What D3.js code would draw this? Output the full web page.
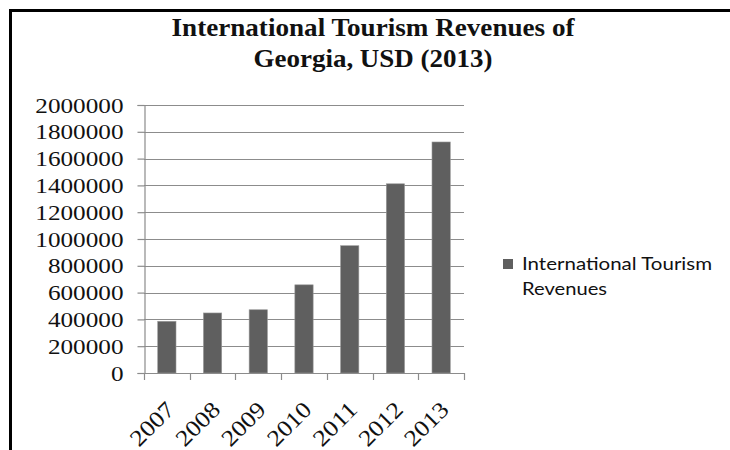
<!DOCTYPE html>
<html>
<head>
<meta charset="utf-8">
<script src="https://cdn.jsdelivr.net/npm/d3@7"></script>
<style>
  html, body { margin: 0; padding: 0; background: #fff; }
  svg { display: block; }
</style>
</head>
<body>
<svg id="chart" width="730" height="450"></svg>
<script>
// International tourism revenues of Georgia, USD
const years = ["2007", "2008", "2009", "2010", "2011", "2012", "2013"];
const revenues = [386000, 448000, 472000, 658000, 950000, 1412000, 1724000];
const yTicks = [0, 200000, 400000, 600000, 800000, 1000000, 1200000, 1400000, 1600000, 1800000, 2000000];
const titleLines = ["International Tourism Revenues of", "Georgia, USD (2013)"];
const legendLines = ["International Tourism", "Revenues"];

const svg = d3.select("#chart");
const plot = { left: 144, right: 464, top: 105, bottom: 373 };

const x = d3.scaleBand().domain(years).range([plot.left, plot.right])
  .paddingInner(0.6).paddingOuter(0.3);
const y = d3.scaleLinear().domain([0, 2000000]).range([plot.bottom, plot.top]);

// outer frame (open on the right and bottom)
svg.append("path")
  .attr("d", "M10.5,760 L10.5,10.5 L760,10.5")
  .attr("fill", "none").attr("stroke", "#000").attr("stroke-width", 3);

// title
const titleW = [403, 239];
svg.append("g").selectAll("text").data(titleLines).join("text")
  .attr("x", 373).attr("y", (d, i) => 36 + i * 30.5)
  .attr("text-anchor", "middle")
  .attr("font-family", "'Liberation Serif', 'Times New Roman', serif")
  .attr("font-weight", "bold").attr("font-size", 26)
  .attr("fill", "#111")
  .attr("textLength", (d, i) => titleW[i]).attr("lengthAdjust", "spacingAndGlyphs")
  .text(d => d);

// horizontal gridlines
svg.append("g").selectAll("line").data(yTicks.slice(1)).join("line")
  .attr("x1", plot.left).attr("x2", plot.right)
  .attr("y1", d => Math.round(y(d)) + 0.5).attr("y2", d => Math.round(y(d)) + 0.5)
  .attr("stroke", "#8c8c8c").attr("stroke-width", 1.2);

// y axis
const yAxis = svg.append("g")
  .attr("transform", `translate(${plot.left + 0.5},0)`)
  .call(d3.axisLeft(y).tickValues(yTicks).tickSize(7).tickPadding(14).tickFormat(d3.format("d")));
yAxis.select(".domain").attr("stroke", "#8c8c8c").attr("stroke-width", 1.2);
yAxis.selectAll(".tick line").attr("stroke", "#8c8c8c").attr("stroke-width", 1.2);
yAxis.selectAll(".tick text")
  .attr("font-family", "'Liberation Serif', 'Times New Roman', serif")
  .attr("font-size", 22).attr("fill", "#111")
  .attr("textLength", d => String(d).length * 12.6)
  .attr("lengthAdjust", "spacingAndGlyphs");

// bars
svg.append("g").selectAll("rect").data(years).join("rect")
  .attr("x", d => x(d)).attr("width", x.bandwidth())
  .attr("y", (d, i) => y(revenues[i]))
  .attr("height", (d, i) => y(0) - y(revenues[i]))
  .attr("fill", "#5f5f5f")
  .attr("stroke", "#9a9a9a").attr("stroke-width", 0.6);

// x axis: baseline plus ticks at category boundaries
const step = x.step();
const boundaries = d3.range(years.length + 1).map(i => plot.left + i * step);
const xAxis = svg.append("g");
xAxis.append("line")
  .attr("x1", plot.left).attr("x2", plot.right)
  .attr("y1", plot.bottom + 0.5).attr("y2", plot.bottom + 0.5)
  .attr("stroke", "#8c8c8c").attr("stroke-width", 1.2);
xAxis.selectAll("line.tick").data(boundaries).join("line")
  .attr("class", "tick")
  .attr("x1", d => Math.round(d) + 0.5).attr("x2", d => Math.round(d) + 0.5)
  .attr("y1", plot.bottom).attr("y2", plot.bottom + 7)
  .attr("stroke", "#8c8c8c").attr("stroke-width", 1.2);
xAxis.selectAll("text").data(years).join("text")
  .attr("transform", d => `translate(${x(d) + x.bandwidth() / 2 + 9},411) rotate(-45)`)
  .attr("text-anchor", "end")
  .attr("font-family", "'Liberation Serif', 'Times New Roman', serif")
  .attr("font-size", 23).attr("fill", "#111")
  .attr("textLength", 52).attr("lengthAdjust", "spacingAndGlyphs")
  .text(d => d);

// legend
const legend = svg.append("g");
legend.append("rect")
  .attr("x", 503).attr("y", 259).attr("width", 10).attr("height", 10)
  .attr("fill", "#5f5f5f");
const legendW = [190, 85];
legend.selectAll("text").data(legendLines).join("text")
  .attr("x", 522).attr("y", (d, i) => 270 + i * 25)
  .attr("font-family", "Lato, 'Open Sans', sans-serif")
  .attr("font-size", 18).attr("fill", "#111")
  .attr("textLength", (d, i) => legendW[i]).attr("lengthAdjust", "spacingAndGlyphs")
  .text(d => d);
</script>
</body>
</html>
